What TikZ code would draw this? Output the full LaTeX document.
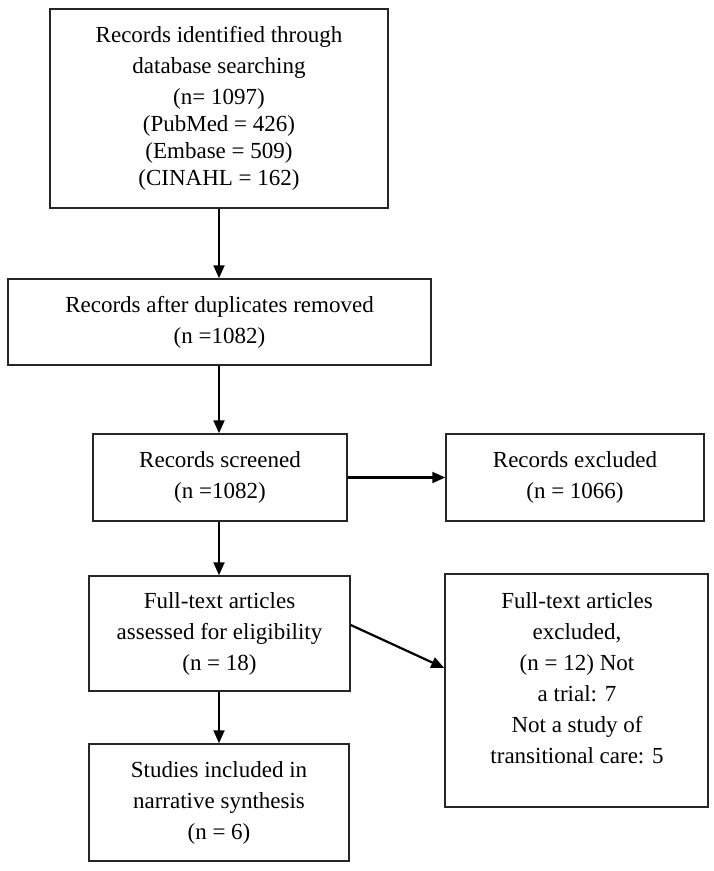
\documentclass[tikz,border=0pt]{standalone}
\usepackage{fontspec}
\setmainfont{Liberation Serif}
\usetikzlibrary{arrows.meta,calc}
\begin{document}
\begin{tikzpicture}[x=1pt,y=-1pt,
  box/.style={draw=black!85, line width=1.5pt, inner sep=0pt, align=center,
    font=\fontsize{23}{31}\selectfont},
  txt/.style={inner sep=0pt, align=center, font=\fontsize{23}{31}\selectfont},
  arr/.style={line width=2.2pt, -{Triangle[length=13pt,width=11pt]}}]
\useasboundingbox[fill=white] (0,0) rectangle (714,871);
\node[box, minimum width=338pt, minimum height=199pt] (b1) at (219,108.5)
  {Records identified through\\ database searching\\ (n= 1097)\\[-4pt] (PubMed = 426)\\[-4pt] (Embase = 509)\\[-4pt] (CINAHL = 162)};
\node[box, minimum width=423pt, minimum height=86pt] (b2) at (219.5,322)
  {Records after duplicates removed\\ (n =1082)};
\node[box, minimum width=254pt, minimum height=87pt] (b3) at (220,477.5)
  {Records screened\\ (n =1082)};
\node[box, minimum width=258pt, minimum height=87pt] (b4) at (575,477.5)
  {Records excluded\\ (n = 1066)};
\node[box, minimum width=261pt, minimum height=115pt] (b5) at (219.5,633.5)
  {Full-text articles\\ assessed for eligibility\\ (n = 18)};
\node[box, minimum width=263pt, minimum height=233pt] (b6) at (576.5,690.5) {};
\node[txt] (t6) at (577,678.5)
  {Full-text articles\\ excluded,\\ (n = 12) Not\\ a trial: 7\\ Not a study of\\ transitional care: 5};
\node[box, minimum width=260pt, minimum height=117pt] (b7) at (219,802.5)
  {Studies included in\\ narrative synthesis\\ (n = 6)};
\coordinate (d1) at ($(b5.east)+(0,-8.5)$);
\coordinate (d2) at ($(b6.west)+(0,-22.5)$);
\draw[arr] (b1.south -| 219,0) -- (b2.north -| 219,0);
\draw[arr] (b2.south -| 219,0) -- (b3.north -| 219,0);
\draw[arr] (b3.east) -- (b4.west);
\draw[arr] (b3.south -| 219,0) -- (b5.north -| 219,0);
\draw[arr] (b5.south -| 219,0) -- (b7.north -| 219,0);
\draw[arr] (d1) -- (d2);
\end{tikzpicture}
\end{document}
